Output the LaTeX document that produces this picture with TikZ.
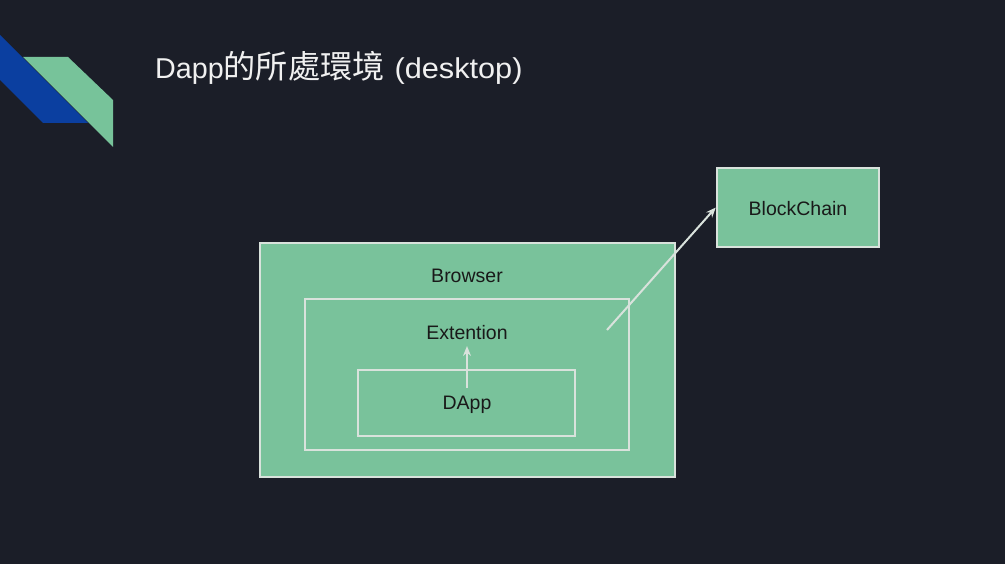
\documentclass[tikz,border=0pt]{standalone}
\usepackage{fontspec}
\setmainfont{Liberation Sans}
\newfontfamily\cjk[Scale=1.12]{Noto Sans CJK TC}
\usetikzlibrary{arrows.meta}
\definecolor{slidebg}{HTML}{1B1E28}
\definecolor{boxgreen}{HTML}{79C29B}
\definecolor{boxline}{HTML}{D9E2DC}
\definecolor{stripeblue}{HTML}{0B3FA0}
\definecolor{stripegreen}{HTML}{77C39A}

\begin{document}
\begin{tikzpicture}[x=1pt,y=-1pt,
    box/.style={draw=boxline, fill=boxgreen, line width=2.5pt, inner sep=0pt},
    lbl/.style={inner sep=0pt, text=black!90, font=\fontsize{19.5}{22}\selectfont},
    link/.style={draw=boxline, line width=2pt, -{Stealth[length=10pt,width=8pt]}}]
    \fill [slidebg] (0,0) rectangle (1005,564);
    \fill [stripeblue] (0,35) -- (88,123) -- (43,123) -- (0,80) -- cycle;
    \fill [stripegreen] (23,57) -- (68,57) -- (113,100) -- (113,147) -- cycle;
    \node [anchor=base west, inner sep=0pt, text=white!94!black, font=\fontsize{28.7}{32}\selectfont] (title) at (155,79) {Dapp{\cjk 的所處環境}\hspace{10pt}\scalebox{1.07}[1]{(desktop)}};
    \node [box, minimum width=415pt, minimum height=234pt] (browser) at (467.5,360) {};
    \node [box, minimum width=324pt, minimum height=151pt] (extention) at (467,374.5) {};
    \node [box, minimum width=217pt, minimum height=66pt] (dapp) at (466.5,403) {};
    \node [box, minimum width=162pt, minimum height=79pt] (chain) at (798,207.5) {};
    \node [lbl] (browserlbl) at (467,276) {Browser};
    \node [lbl] (extentionlbl) at (467,333) {Extention};
    \node [lbl] (dapplbl) at (467,405) {DApp};
    \node [lbl] (chainlbl) at (798,209) {BlockChain};
    \coordinate (dappout) at (467,388);
    \coordinate (extout) at (607,330);
    \draw [link] (dappout) -- (extentionlbl.south |- 0,346);
    \draw [link] (extout) -- (chain.west);
\end{tikzpicture}
\end{document}
